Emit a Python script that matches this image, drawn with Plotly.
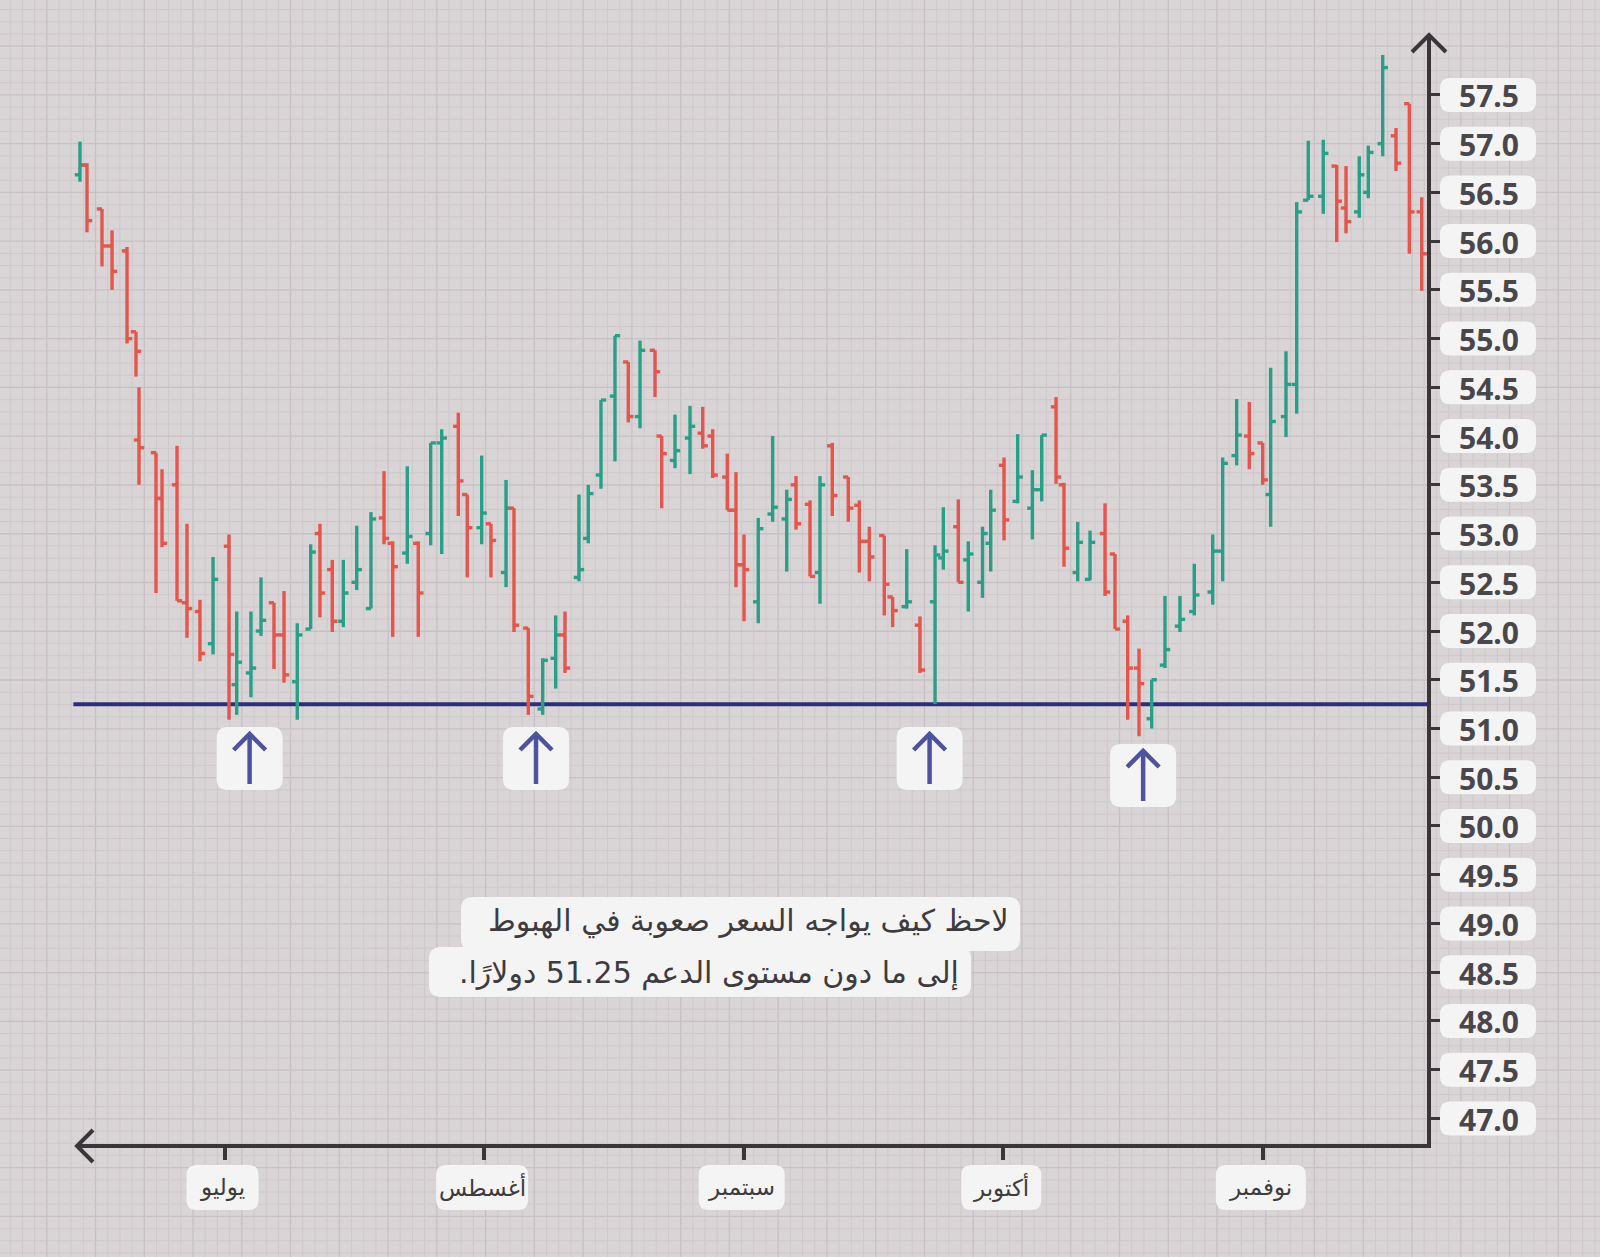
import plotly.graph_objects as go

# ---------------- data ----------------
days = [-17.26, -16.42, -14.63, -13.43, -11.64, -10.57, -10.21, -8.18, -7.46, -5.67,
        -4.48, -2.93, -1.37, 0.54, 1.46, 3.16, 4.36, 5.91, 7.11, 8.69,
        10.29, 11.40, 12.87, 14.19, 15.79, 17.49, 19.05, 20.09, 21.83, 23.14,
        24.62, 25.94, 27.92, 28.99, 30.71, 31.82, 33.62, 34.57, 36.28, 38.00,
        39.55, 40.66, 42.33, 43.44, 44.96, 46.63, 48.22, 49.62, 51.41, 52.21,
        53.80, 55.59, 57.11, 58.30, 60.04, 61.08, 62.04, 63.74, 65.46, 67.14,
        68.25, 69.92, 71.11, 72.58, 74.49, 75.81, 77.00, 78.79, 79.79, 81.47,
        83.05, 84.85, 85.84, 87.63, 88.82, 90.52, 91.50, 93.09, 94.72, 96.47,
        97.59, 99.30, 100.25, 101.89, 103.36, 105.15, 106.34, 107.86, 109.21, 110.72,
        112.31, 114.10, 115.81, 118.01, 119.20, 120.87, 122.38, 123.98, 124.93, 126.76,
        128.04, 129.42, 131.21, 132.82, 133.93, 135.51, 136.59, 138.31, 139.90, 141.49,
        142.97]
opens = [56.68, 56.78, 56.33, 55.95, 55.90, 55.07, 53.96, 53.83, 53.36, 53.50,
         52.29, 52.20, 51.87, 52.87, 51.45, 51.57, 52.00, 52.29, 51.96, 51.48,
         52.02, 53.00, 52.63, 52.10, 52.50, 52.23, 53.16, 52.90, 52.80, 52.90,
         53.00, 53.93, 54.10, 53.40, 53.06, 53.10, 52.60, 53.26, 52.03, 51.20,
         51.72, 51.96, 52.55, 52.95, 53.60, 54.41, 54.76, 54.20, 54.88, 54.00,
         53.75, 53.98, 54.03, 54.00, 53.58, 53.24, 52.68, 52.30, 53.20, 53.15,
         53.50, 53.30, 52.60, 53.90, 53.58, 53.29, 52.92, 52.98, 52.35, 52.25,
         52.06, 52.30, 52.75, 53.07, 52.73, 52.50, 52.90, 53.70, 53.33, 53.26,
         53.45, 54.30, 53.50, 52.60, 52.53, 53.00, 52.79, 52.10, 51.62, 51.10,
         51.65, 52.05, 52.20, 52.40, 52.82, 53.80, 54.00, 53.93, 53.40, 54.20,
         54.53, 56.42, 56.46, 56.77, 56.34, 56.30, 56.50, 57.00, 57.08, 57.41,
         56.30]
highs = [57.02, 56.80, 56.33, 56.11, 55.94, 55.07, 54.50, 53.83, 53.66, 53.90,
         53.10, 52.32, 52.76, 52.99, 52.20, 52.20, 52.55, 52.29, 52.41, 52.08,
         52.89, 53.10, 52.73, 52.73, 53.08, 53.22, 53.64, 52.92, 53.69, 52.92,
         53.93, 54.07, 54.24, 53.40, 53.80, 53.10, 53.55, 53.26, 52.03, 51.72,
         52.16, 52.20, 53.40, 53.50, 54.37, 55.03, 54.76, 54.98, 54.88, 54.00,
         54.22, 54.31, 54.30, 54.07, 53.82, 53.63, 52.99, 53.16, 54.00, 53.45,
         53.59, 53.34, 53.59, 53.93, 53.58, 53.34, 53.07, 52.98, 52.35, 52.84,
         52.15, 52.88, 53.27, 53.35, 52.92, 53.07, 53.45, 53.78, 54.02, 53.65,
         54.01, 54.40, 53.52, 53.12, 53.03, 53.31, 52.79, 52.16, 51.82, 51.50,
         52.36, 52.36, 52.69, 52.99, 53.78, 54.38, 54.35, 53.93, 54.70, 54.87,
         56.40, 57.03, 57.04, 56.78, 56.77, 56.87, 56.98, 57.91, 57.16, 57.41,
         56.45]
lows = [56.61, 56.09, 55.74, 55.50, 54.95, 54.61, 53.50, 52.39, 52.86, 52.31,
        51.93, 51.69, 51.76, 51.09, 51.14, 51.32, 51.95, 51.61, 51.47, 51.09,
        52.02, 52.14, 51.99, 52.04, 52.42, 52.23, 52.89, 51.94, 52.69, 51.94,
        52.88, 52.79, 53.18, 52.55, 52.89, 52.55, 52.45, 51.99, 51.14, 51.14,
        51.41, 51.57, 52.51, 52.90, 53.46, 53.74, 54.14, 54.08, 54.40, 53.26,
        53.67, 53.61, 53.87, 53.57, 53.24, 52.45, 52.10, 52.08, 53.12, 52.61,
        53.04, 52.56, 52.28, 53.18, 53.12, 52.60, 52.51, 52.16, 52.04, 52.23,
        51.57, 51.25, 52.63, 52.50, 52.20, 52.34, 52.61, 52.93, 53.31, 52.94,
        53.33, 53.51, 52.66, 52.51, 52.52, 52.36, 52.02, 51.09, 50.92, 51.00,
        51.62, 51.99, 52.16, 52.27, 52.51, 53.70, 53.66, 53.50, 53.07, 53.99,
        54.23, 56.42, 56.28, 55.99, 56.08, 56.24, 56.44, 56.87, 56.72, 55.87,
        55.49]
closes = [56.78, 56.21, 55.95, 55.69, 55.00, 54.87, 53.88, 53.36, 52.90, 52.31,
          52.23, 51.77, 52.53, 51.76, 51.68, 51.62, 52.11, 51.96, 51.55, 51.96,
          52.81, 52.39, 52.10, 52.39, 52.63, 53.15, 52.95, 52.66, 52.97, 52.39,
          53.93, 53.98, 53.54, 53.06, 53.21, 52.93, 53.26, 52.06, 51.33, 51.70,
          51.96, 51.62, 52.63, 53.41, 54.37, 55.03, 54.20, 54.88, 54.66, 53.82,
          53.85, 54.10, 53.90, 53.60, 53.24, 52.68, 52.63, 53.05, 53.27, 53.35,
          53.10, 52.56, 53.50, 53.39, 53.26, 52.92, 52.76, 52.48, 52.21, 52.30,
          51.60, 52.78, 52.82, 52.50, 52.79, 53.00, 53.24, 53.14, 53.58, 53.45,
          54.01, 53.58, 52.85, 52.91, 52.91, 52.40, 52.02, 51.62, 51.46, 51.50,
          51.81, 52.12, 52.37, 52.82, 53.72, 54.01, 53.82, 53.55, 54.15, 54.53,
          56.30, 56.46, 56.90, 56.41, 56.20, 56.68, 56.91, 57.78, 56.80, 56.30,
          55.87]

support_level = 51.25
month_labels = ["يوليو", "أغسطس", "سبتمبر", "أكتوبر", "نوفمبر"]
month_days = [0, 31, 62, 93, 124]
y_ticks = [47.0, 47.5, 48.0, 48.5, 49.0, 49.5, 50.0, 50.5, 51.0, 51.5, 52.0,
           52.5, 53.0, 53.5, 54.0, 54.5, 55.0, 55.5, 56.0, 56.5, 57.0, 57.5]
touch_days = [3.0, 37.2, 84.2, 109.7]
note_lines = ["لاحظ كيف يواجه السعر صعوبة في الهبوط",
              "إلى ما دون مستوى الدعم 51.25 دولارًا."]

# ---------------- geometry / style ----------------
W, H = 1600, 1257
L, R, T, B = 60, 171, 39, 111
PW, PH = W - L - R, H - T - B
PX_PER_DAY, JUL_PX = 8.374, 224.5
XR = [(L - JUL_PX) / PX_PER_DAY, (W - R - JUL_PX) / PX_PER_DAY]
YR = [46.717, 58.0735]

GREEN = "#2a9f87"
RED = "#e4554b"
NAVY = "#2b2f7c"
ARROW = "#4f539c"
AXIS = "#3a3538"
BG = "#d9d4d6"
BOX = "#f5f4f5"
TXT = "#3e3b3e"
RLM = "\u200f"


def X(px):
    return (px - L) / PW


def Y(py):
    return (H - B - py) / PH


def d2px(d):
    return L + (d - XR[0]) / (XR[1] - XR[0]) * PW


def v2py(v):
    return T + (YR[1] - v) / (YR[1] - YR[0]) * PH


def rrect(x0, y0, x1, y1, r, fill):
    p = (f"M{X(x0 + r)},{Y(y0)} L{X(x1 - r)},{Y(y0)} Q{X(x1)},{Y(y0)} {X(x1)},{Y(y0 + r)} "
         f"L{X(x1)},{Y(y1 - r)} Q{X(x1)},{Y(y1)} {X(x1 - r)},{Y(y1)} "
         f"L{X(x0 + r)},{Y(y1)} Q{X(x0)},{Y(y1)} {X(x0)},{Y(y1 - r)} "
         f"L{X(x0)},{Y(y0 + r)} Q{X(x0)},{Y(y0)} {X(x0 + r)},{Y(y0)} Z")
    return dict(type="path", xref="paper", yref="paper", path=p, fillcolor=fill,
                line=dict(width=0), layer="above")


def polyline(pts, color, width, layer="above"):
    p = "M" + " L".join(f"{X(a)},{Y(b)}" for a, b in pts)
    return dict(type="path", xref="paper", yref="paper", path=p,
                line=dict(color=color, width=width), layer=layer)


shapes = []

# background graph-paper grid across whole canvas
step = 12.19
minor, major = [], []
k = 0
x = -2.0
while x < W + 2:
    (major if k % 4 == 0 else minor).append(f"M{X(x)},{Y(-5)} L{X(x)},{Y(H + 5)}")
    x += step
    k += 1
y0ref = v2py(57.5)
y = y0ref
while y > -5:
    y -= step
while y < H + 5:
    (major if round((y - y0ref) / step) % 4 == 0 else minor).append(
        f"M{X(-5)},{Y(y)} L{X(W + 5)},{Y(y)}")
    y += step
shapes.append(dict(type="path", xref="paper", yref="paper", path=" ".join(minor),
                   line=dict(color="#cec8cb", width=1), layer="below"))
shapes.append(dict(type="path", xref="paper", yref="paper", path=" ".join(major),
                   line=dict(color="#c7c1c4", width=1.3), layer="below"))

# axes with arrowheads
ax_x, ax_y = W - R, H - B
shapes.append(polyline([(77, ax_y), (ax_x, ax_y)], AXIS, 4))
shapes.append(polyline([(93, ax_y - 16), (77, ax_y), (93, ax_y + 16)], AXIS, 4))
shapes.append(polyline([(ax_x, ax_y + 2), (ax_x, 35)], AXIS, 4))
shapes.append(polyline([(ax_x - 17, 52), (ax_x, 35), (ax_x + 17, 52)], AXIS, 4))

annotations = []

# y tick label boxes
for v in y_ticks:
    cy = v2py(v)
    shapes.append(rrect(1440, cy - 17, 1536, cy + 17, 10, BOX))
    annotations.append(dict(xref="paper", yref="paper", x=X(1489), y=Y(cy + 1),
                            text=f"{v:.1f}", showarrow=False, xanchor="center",
                            yanchor="middle",
                            font=dict(family="Noto Sans, DejaVu Sans", size=30,
                                      color="#4a474b", weight=700)))

# month label boxes
month_box_w = [72, 92, 86, 80, 90]
for d, lab, bw in zip(month_days, month_labels, month_box_w):
    cx = d2px(d) - 2
    shapes.append(rrect(cx - bw / 2, 1165, cx + bw / 2, 1210, 10, BOX))
    annotations.append(dict(xref="paper", yref="paper", x=X(cx), y=Y(1187),
                            text=lab, showarrow=False, xanchor="center",
                            yanchor="middle",
                            font=dict(family="DejaVu Sans, Noto Sans", size=23,
                                      color=TXT)))

# support arrows in boxes
for i, d in enumerate(touch_days):
    cx = d2px(d)
    top = 727 if i < 3 else 744
    shapes.append(rrect(cx - 33, top, cx + 33, top + 63, 11, BOX))
    shapes.append(polyline([(cx, top + 57), (cx, top + 7)], ARROW, 4.5))
    shapes.append(polyline([(cx - 16, top + 23), (cx, top + 7), (cx + 16, top + 23)],
                           ARROW, 4.5))

# note boxes + two note lines
shapes.append(rrect(461, 897, 1020, 951, 12, BOX))
shapes.append(rrect(429, 947, 971, 997, 12, BOX))
for txt, rx_, cy in [(note_lines[0], 1010, 921), (note_lines[1], 960, 973)]:
    annotations.append(dict(xref="paper", yref="paper", x=X(rx_), y=Y(cy),
                            text=RLM + txt + RLM, showarrow=False,
                            xanchor="right", yanchor="middle", borderpad=0,
                            font=dict(family="DejaVu Sans, sans-serif",
                                      size=30, color=TXT)))

# ---------------- OHLC bars as line segments ----------------
TICK = 0.62


def segs(up):
    xs, ys = [], []
    for d, o, h, l, c in zip(days, opens, highs, lows, closes):
        if (c >= o) != up:
            continue
        xs += [d, d, None, d - TICK, d, None, d, d + TICK, None]
        ys += [h, l, None, o, o, None, c, c, None]
    return xs, ys


fig = go.Figure()
gx, gy = segs(True)
rx, ry = segs(False)
fig.add_trace(go.Scatter(x=[XR[0] + 1.6, XR[1]], y=[support_level, support_level],
                         mode="lines", line=dict(color=NAVY, width=4),
                         hoverinfo="skip", showlegend=False))
fig.add_trace(go.Scatter(x=gx, y=gy, mode="lines", line=dict(color=GREEN, width=3.4),
                         showlegend=False, name="صعود"))
fig.add_trace(go.Scatter(x=rx, y=ry, mode="lines", line=dict(color=RED, width=3.4),
                         showlegend=False, name="هبوط"))

fig.update_layout(
    width=W, height=H,
    margin=dict(l=L, r=R, t=T, b=B, pad=0),
    paper_bgcolor=BG, plot_bgcolor="rgba(0,0,0,0)",
    shapes=shapes, annotations=annotations,
    xaxis=dict(range=XR, showgrid=False, zeroline=False, showline=False,
               tickvals=month_days, ticktext=[""] * len(month_days),
               ticks="outside", ticklen=13, tickwidth=4, tickcolor=AXIS,
               fixedrange=True),
    yaxis=dict(range=YR, side="right", showgrid=False, zeroline=False,
               showline=False, tickvals=y_ticks, ticktext=[""] * len(y_ticks),
               ticks="outside", ticklen=13, tickwidth=3, tickcolor=AXIS,
               fixedrange=True),
)

fig.write_html("out.html", config={"displayModeBar": False},
               post_script="document.body.style.margin='0';"
                           "document.body.style.background='" + BG + "';")
